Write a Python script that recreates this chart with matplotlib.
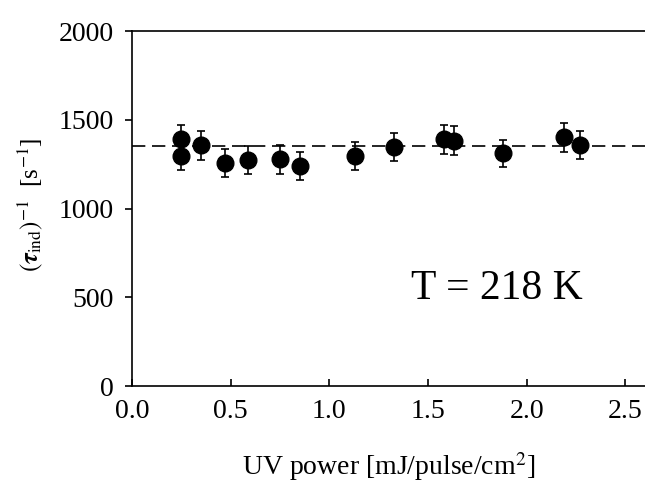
import matplotlib
matplotlib.use('Agg')
import matplotlib.pyplot as plt

# UV power [mJ/pulse/cm^2] and inverse induction time [1/s]
uv_power = [0.25, 0.25, 0.35, 0.47, 0.59, 0.75, 0.85, 1.13, 1.33, 1.58, 1.63, 1.88, 2.19, 2.27]
rate = [1390, 1297, 1356, 1255, 1273, 1277, 1241, 1297, 1348, 1390, 1382, 1311, 1401, 1358]
rate_err = [82, 80, 80, 78, 78, 80, 78, 78, 80, 82, 82, 78, 82, 80]
mean_rate = 1350

x_ticks = [0.0, 0.5, 1.0, 1.5, 2.0, 2.5]
y_ticks = [0, 500, 1000, 1500, 2000]

plt.rcParams['font.family'] = ['Liberation Serif', 'DejaVu Serif']
plt.rcParams['mathtext.fontset'] = 'stix'

fig = plt.figure(figsize=(6.45, 4.82), dpi=100)
ax = fig.add_axes([0.2047, 0.199, 0.7953, 0.7365])

ax.axhline(mean_rate, color='black', linestyle=(0, (8, 4)), linewidth=1.2, zorder=1)
ax.errorbar(uv_power, rate, yerr=rate_err, fmt='o', color='black',
            markersize=12, elinewidth=1.2, capsize=3, capthick=1.2, zorder=3)

ax.text(1.85, 550, 'T = 218 K', fontsize=30, ha='center', va='center')

ax.set_xlim(0, 2.6)
ax.set_ylim(0, 2000)
ax.set_xticks(x_ticks)
ax.set_xticklabels([f'{t:.1f}' for t in x_ticks])
ax.set_yticks(y_ticks)

ax.spines['right'].set_visible(False)
for s in ['top', 'bottom', 'left']:
    ax.spines[s].set_linewidth(1.2)

ax.tick_params(axis='x', direction='in', length=5, width=1.2, labelsize=20, pad=9)
ax.tick_params(axis='y', direction='out', length=5, width=1.2, labelsize=20, pad=8)

ax.set_xlabel('UV power [mJ/pulse/cm$^2$]', fontsize=20, labelpad=19)
ax.set_ylabel(r'$(\boldsymbol{\tau}_{\rm ind})^{-1}$  [s$^{-1}$]', fontsize=18)
ax.yaxis.set_label_coords(-0.17, 0.51)

fig.savefig('out.png', dpi=100)
